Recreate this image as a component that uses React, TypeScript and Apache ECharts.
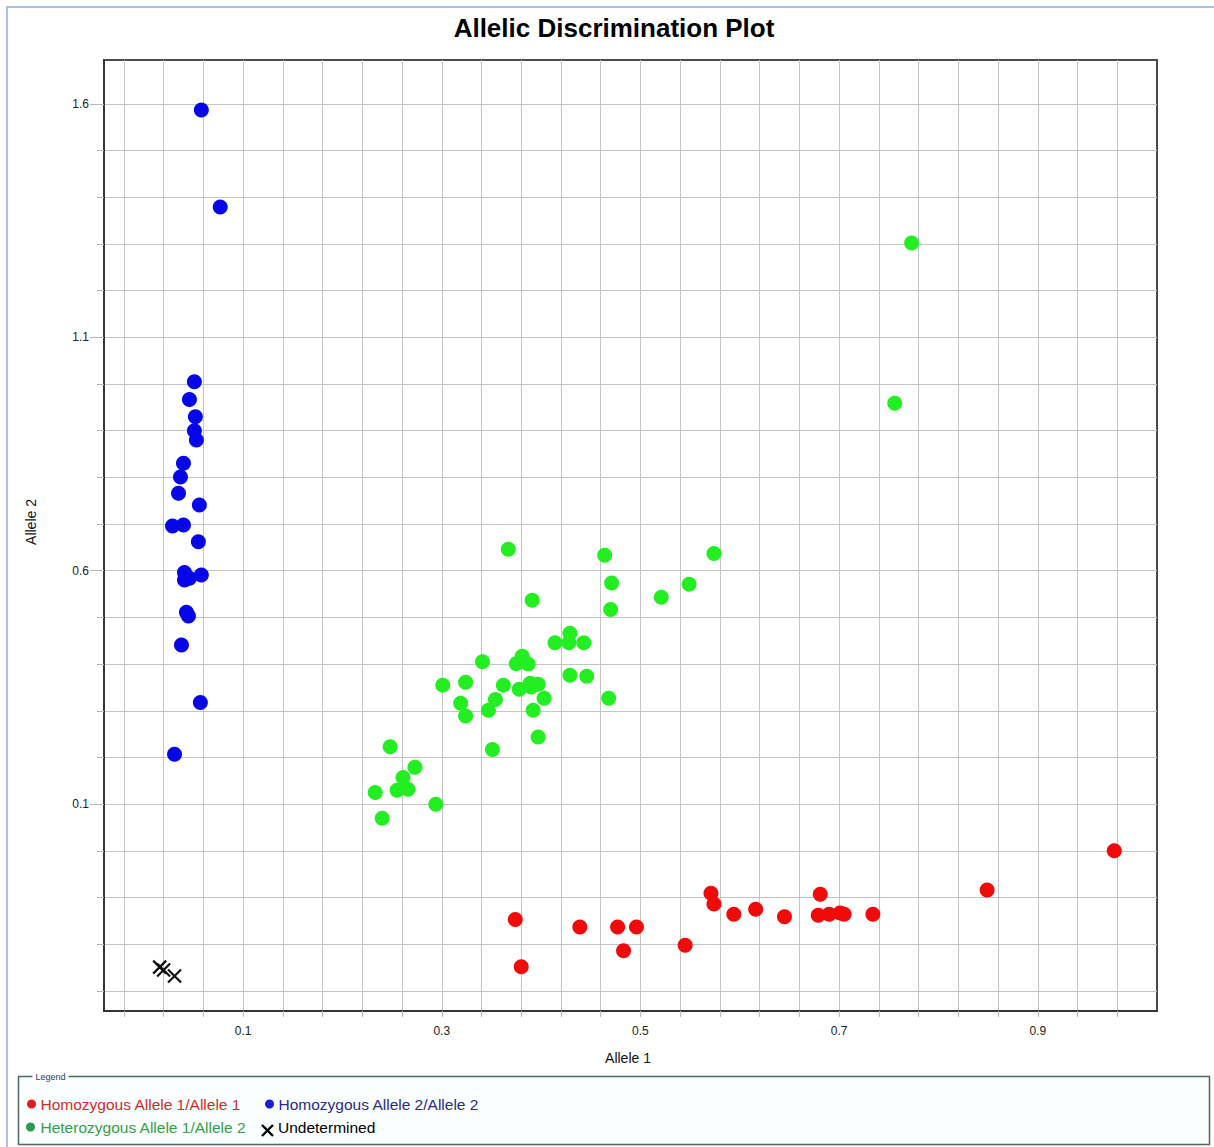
import React, { useEffect, useRef } from "react";
import * as echarts from "echarts";

// Allele 1 / Allele 2 signal pairs per call group
const homozygousAllele1: [number, number][] = [
  [0.374, -0.147], [0.38, -0.248], [0.439, -0.163], [0.477, -0.163],
  [0.496, -0.163], [0.483, -0.214], [0.545, -0.202], [0.571, -0.091],
  [0.574, -0.114], [0.594, -0.136], [0.616, -0.125], [0.645, -0.141],
  [0.681, -0.093], [0.679, -0.138], [0.69, -0.136], [0.701, -0.133],
  [0.705, -0.136], [0.734, -0.136], [0.849, -0.084], [0.977, 0.0],
];

const homozygousAllele2: [number, number][] = [
  [0.058, 1.587], [0.077, 1.379], [0.051, 1.005], [0.046, 0.967],
  [0.052, 0.93], [0.051, 0.9], [0.053, 0.88], [0.04, 0.83],
  [0.037, 0.801], [0.035, 0.766], [0.056, 0.741], [0.029, 0.696],
  [0.04, 0.698], [0.055, 0.662], [0.041, 0.596], [0.041, 0.58],
  [0.046, 0.584], [0.058, 0.591], [0.043, 0.511], [0.045, 0.503],
  [0.038, 0.441], [0.057, 0.318], [0.031, 0.207],
];

const heterozygous: [number, number][] = [
  [0.367, 0.646], [0.464, 0.633], [0.574, 0.637], [0.471, 0.574],
  [0.549, 0.571], [0.521, 0.543], [0.391, 0.537], [0.47, 0.517],
  [0.429, 0.466], [0.414, 0.446], [0.428, 0.446], [0.443, 0.446],
  [0.341, 0.405], [0.381, 0.417], [0.375, 0.401], [0.387, 0.4],
  [0.429, 0.376], [0.446, 0.374], [0.301, 0.355], [0.324, 0.361],
  [0.362, 0.355], [0.378, 0.346], [0.389, 0.359], [0.397, 0.357],
  [0.39, 0.351], [0.403, 0.327], [0.468, 0.327], [0.319, 0.316],
  [0.354, 0.324], [0.324, 0.289], [0.347, 0.301], [0.392, 0.301],
  [0.397, 0.244], [0.248, 0.223], [0.351, 0.217], [0.273, 0.179],
  [0.261, 0.157], [0.255, 0.13], [0.266, 0.132], [0.233, 0.125],
  [0.294, 0.1], [0.24, 0.07], [0.773, 1.302], [0.756, 0.959],
];

const undetermined: [number, number][] = [
  [0.016, -0.249], [0.02, -0.255], [0.031, -0.268],
];

// Axis extents and labelled tick values
const X_MIN = -0.04;
const X_MAX = 1.02;
const Y_MIN = -0.343;
const Y_MAX = 1.694;
const xLabelValues = [0.1, 0.3, 0.5, 0.7, 0.9];
const yLabelValues = [0.1, 0.6, 1.1, 1.6];

const seriesNames = [
  "Homozygous Allele 1/Allele 1",
  "Homozygous Allele 2/Allele 2",
  "Heterozygous Allele 1/Allele 2",
  "Undetermined",
];

const FONT = "'Liberation Sans', Arial, sans-serif";

function stepValues(start: number, end: number, step: number): number[] {
  const out: number[] = [];
  for (let v = start; v <= end + 1e-9; v += step) out.push(Math.round(v * 1000) / 1000);
  return out;
}

export default function App() {
  const ref = useRef<HTMLDivElement>(null);

  useEffect(() => {
    if (!ref.current) return;
    const chart = echarts.init(ref.current, undefined, { renderer: "svg" });

    const xGrid = stepValues(-0.02, 1.0, 0.04);
    const yGrid = stepValues(-0.3, 1.6, 0.1);

    const gridLineStyle = { color: "#c4c4c4", width: 1 };
    const crossPath = "path://M0 0L10 10M10 0L0 10";

    const legendRow1 = 1104;
    const legendRow2 = 1127;

    chart.setOption({
      animation: false,
      backgroundColor: "#ffffff",
      grid: {
        left: 104,
        right: 57,
        top: 60,
        bottom: 136,
        show: true,
        borderColor: "#4a4a4a",
        borderWidth: 2,
        backgroundColor: "#ffffff",
        containLabel: false,
        outerBoundsMode: "none",
      },
      xAxis: {
        type: "value",
        min: X_MIN,
        max: X_MAX,
        axisLine: { show: true, onZero: false, lineStyle: { color: "#333", width: 2 } },
        axisTick: {
          show: true,
          customValues: xGrid,
          length: 6,
          lineStyle: { color: "#b8b8b8" },
        },
        axisLabel: {
          customValues: xLabelValues,
          margin: 14,
          color: "#222",
          fontSize: 12,
          fontFamily: FONT,
          formatter: (v: number) => v.toFixed(1),
        },
        splitLine: { show: true, lineStyle: gridLineStyle },
      },
      yAxis: [
        {
          type: "value",
          min: Y_MIN,
          max: Y_MAX,
          position: "left",
          axisLine: { show: true, onZero: false, lineStyle: { color: "#333", width: 2 } },
          axisTick: {
            show: true,
            customValues: yGrid,
            length: 7,
            lineStyle: { color: "#b8b8b8" },
          },
          axisLabel: {
            customValues: yLabelValues,
            margin: 15,
            color: "#222",
            fontSize: 12,
            fontFamily: FONT,
            formatter: (v: number) => v.toFixed(1),
          },
          splitLine: { show: true, lineStyle: gridLineStyle },
        },
        {
          type: "value",
          min: Y_MIN,
          max: Y_MAX,
          position: "left",
          axisLine: { show: false, onZero: false },
          axisLabel: { show: false },
          splitLine: { show: false },
          axisTick: {
            show: true,
            customValues: yLabelValues,
            length: 14,
            lineStyle: { color: "#b8b8b8" },
          },
        },
      ],
      series: [
        {
          name: seriesNames[0],
          type: "scatter",
          data: homozygousAllele1,
          symbol: "circle",
          symbolSize: 15,
          itemStyle: { color: "#f00a0a", opacity: 1 },
        },
        {
          name: seriesNames[1],
          type: "scatter",
          data: homozygousAllele2,
          symbol: "circle",
          symbolSize: 15,
          itemStyle: { color: "#0606e8", opacity: 1 },
        },
        {
          name: seriesNames[2],
          type: "scatter",
          data: heterozygous,
          symbol: "circle",
          symbolSize: 15,
          itemStyle: { color: "#22ee22", opacity: 1 },
        },
        {
          name: seriesNames[3],
          type: "scatter",
          data: undetermined,
          symbol: crossPath,
          symbolSize: 13,
          itemStyle: { color: "transparent", borderColor: "#111", borderWidth: 2.2, opacity: 1 },
        },
      ],
      graphic: [
        // outer window frame
        {
          type: "rect",
          shape: { x: 7, y: 7, width: 1230, height: 1160 },
          style: { fill: "none", stroke: "#a9bfe9", lineWidth: 2 },
          silent: true,
        },
        {
          type: "text",
          x: 614,
          y: 28,
          style: {
            text: "Allelic Discrimination Plot",
            font: `bold 26px ${FONT}`,
            fill: "#000",
            align: "center",
            verticalAlign: "middle",
          },
        },
        {
          type: "text",
          x: 628,
          y: 1058,
          style: {
            text: "Allele 1",
            font: `14px ${FONT}`,
            fill: "#111",
            align: "center",
            verticalAlign: "middle",
          },
        },
        {
          type: "text",
          x: 31,
          y: 522,
          rotation: Math.PI / 2,
          style: {
            text: "Allele 2",
            font: `14px ${FONT}`,
            fill: "#111",
            align: "center",
            verticalAlign: "middle",
          },
        },
        // legend panel
        {
          type: "rect",
          shape: { x: 18.5, y: 1076.5, width: 1191, height: 68 },
          style: { fill: "#fbfefe", stroke: "#4d6666", lineWidth: 1.5 },
        },
        {
          type: "text",
          x: 50.5,
          y: 1077,
          style: {
            text: "Legend",
            font: `9px ${FONT}`,
            fill: "#1b3d6e",
            align: "center",
            verticalAlign: "middle",
            backgroundColor: "#ffffff",
            padding: [1, 3],
          },
        },
        {
          type: "circle",
          shape: { cx: 31.5, cy: legendRow1, r: 4.5 },
          style: { fill: "#e31c1c" },
        },
        {
          type: "text",
          x: 40.5,
          y: legendRow1,
          style: {
            text: seriesNames[0],
            font: `15.5px ${FONT}`,
            fill: "#cf2b2b",
            verticalAlign: "middle",
          },
        },
        {
          type: "circle",
          shape: { cx: 269.5, cy: legendRow1, r: 4.5 },
          style: { fill: "#1e1ed0" },
        },
        {
          type: "text",
          x: 278.5,
          y: legendRow1,
          style: {
            text: seriesNames[1],
            font: `15.5px ${FONT}`,
            fill: "#2a2a88",
            verticalAlign: "middle",
          },
        },
        {
          type: "circle",
          shape: { cx: 30.5, cy: legendRow2, r: 4.5 },
          style: { fill: "#2c9a4e" },
        },
        {
          type: "text",
          x: 40.5,
          y: legendRow2,
          style: {
            text: seriesNames[2],
            font: `15.5px ${FONT}`,
            fill: "#34a046",
            verticalAlign: "middle",
          },
        },
        {
          type: "line",
          shape: { x1: 262, y1: 1125, x2: 273, y2: 1136 },
          style: { stroke: "#000", lineWidth: 2.4 },
        },
        {
          type: "line",
          shape: { x1: 273, y1: 1125, x2: 262, y2: 1136 },
          style: { stroke: "#000", lineWidth: 2.4 },
        },
        {
          type: "text",
          x: 278,
          y: legendRow2,
          style: {
            text: seriesNames[3],
            font: `15.5px ${FONT}`,
            fill: "#000",
            verticalAlign: "middle",
          },
        },
      ],
    });

    return () => chart.dispose();
  }, []);

  return (
    <div
      ref={ref}
      style={{ position: "fixed", left: 0, top: 0, width: 1214, height: 1147, background: "#fff" }}
    />
  );
}
